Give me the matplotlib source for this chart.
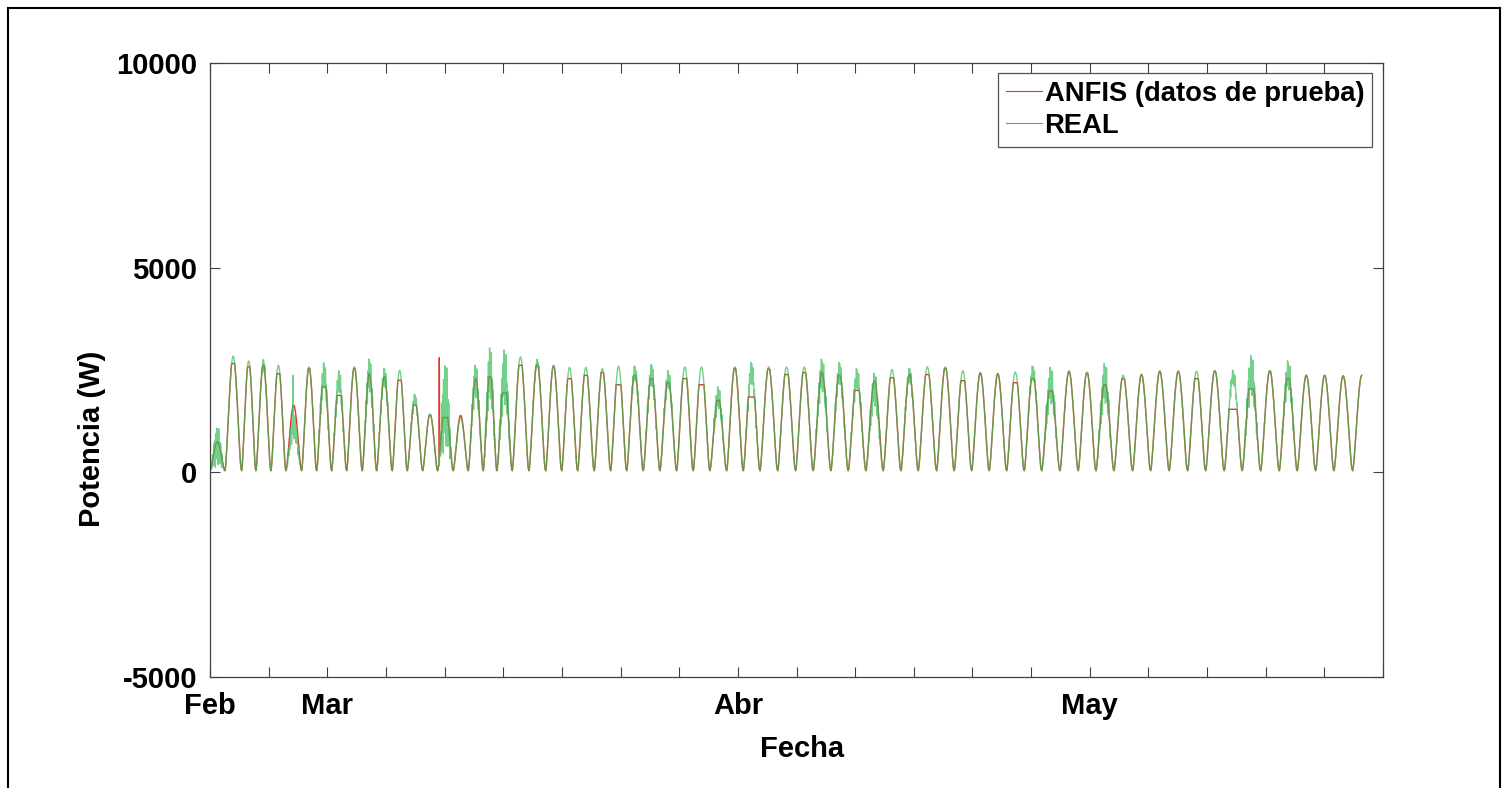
import numpy as np
import matplotlib
matplotlib.use("Agg")
import matplotlib.pyplot as plt
from matplotlib.patches import Rectangle

plt.rcParams["font.family"] = ["Liberation Sans", "DejaVu Sans"]

# inicio de cada ciclo diario, en unidades del eje x (una marca = 1)
inicio_dia = [0.000, 0.256, 0.540, 0.784, 1.040, 1.296, 1.563, 1.819, 2.075, 2.331,
              2.597, 2.842, 3.108, 3.364, 3.627, 3.882, 4.148, 4.404, 4.660, 4.893,
              5.154, 5.439, 5.724, 5.997, 6.269, 6.552, 6.832, 7.105, 7.388, 7.673,
              7.957, 8.240, 8.525, 8.810, 9.093, 9.378, 9.680, 9.986, 10.286, 10.588,
              10.883, 11.185, 11.480, 11.782, 12.077, 12.390, 12.690, 12.987, 13.287, 13.584,
              13.884, 14.181, 14.493, 14.805, 15.107, 15.414, 15.732, 16.039, 16.356, 16.670,
              16.977, 17.294, 17.601, 17.915, 18.232, 18.539, 18.852, 19.165, 19.483]
fin_datos = 19.64

# potencia maxima diaria (W), amplitud del ruido y tope de la salida ANFIS
pico_real = [600, 2800, 2680, 2600, 2575, 1100, 2535, 2350, 2200, 2535,
             2350, 2300, 2450, 1750, 1390, 1600, 1300, 2200, 2400, 2300,
             2780, 2650, 2575, 2520, 2520, 2495, 2550, 2400, 2350, 2250,
             2535, 2535, 1800, 2535, 2400, 2535, 2535, 2535, 2350, 2400,
             2250, 2000, 2470, 2350, 2535, 2535, 2440, 2390, 2370, 2410,
             2400, 2100, 2430, 2410, 2150, 2330, 2350, 2430, 2430, 2430,
             2450, 2300, 2350, 2450, 2350, 2330, 2330, 2315, 2330]
ruido_real = [500, 0, 0, 150, 0, 350, 0, 350, 300, 0,
              450, 250, 0, 150, 0, 1100, 0, 450, 700, 750,
              0, 100, 0, 0, 0, 0, 0, 200, 300, 250,
              0, 0, 300, 0, 300, 0, 0, 0, 450, 300,
              300, 450, 0, 200, 0, 0, 0, 0, 0, 0,
              200, 500, 0, 0, 550, 0, 0, 0, 0, 0,
              0, 200, 550, 0, 400, 0, 0, 0, 0]
tope_anfis = [700, 2620, 2540, 2575, 2370, 1600, 2500, 2050, 1840, 2500,
              2370, 2300, 2210, 1600, 1350, 1300, 1350, 2250, 2300, 1900,
              2575, 2580, 2550, 2250, 2330, 2400, 2100, 2330, 2250, 2150,
              2250, 2100, 1720, 2500, 1800, 2480, 2350, 2400, 2400, 2320,
              1960, 2200, 2270, 2350, 2350, 2500, 2200, 2390, 2370, 2150,
              2250, 1950, 2430, 2380, 2100, 2250, 2350, 2430, 2430, 2250,
              2430, 1500, 2000, 2430, 2250, 2330, 2330, 2315, 2330]

# forma normalizada del ciclo diario (48 muestras)
perfil = [0.00, 0.02, 0.05, 0.09, 0.14, 0.19, 0.25, 0.31, 0.37, 0.43, 0.49, 0.55,
          0.61, 0.67, 0.72, 0.77, 0.82, 0.86, 0.90, 0.93, 0.96, 0.98, 0.99, 1.00,
          1.00, 0.99, 0.98, 0.96, 0.93, 0.90, 0.86, 0.82, 0.77, 0.72, 0.67, 0.61,
          0.55, 0.49, 0.43, 0.37, 0.31, 0.25, 0.19, 0.14, 0.09, 0.05, 0.02, 0.01]
# patron de oscilacion de las mediciones ruidosas
oscil = [0.1, -0.6, 0.8, -0.3, 0.5, -0.9, 0.7, -0.2, 0.9, -0.7, 0.3, -0.5,
         1.0, -0.8, 0.4, -0.1, 0.6, -1.0, 0.8, -0.4, 0.2, -0.6, 0.9, -0.3,
         0.7, -0.9, 0.5, -0.7, 1.0, -0.2, 0.3, -0.8, 0.6, -0.5, 0.8, -0.1,
         0.4, -0.9, 0.7, -0.6, 0.2, -0.4, 0.5, -0.3, 0.3, -0.2, 0.1, 0.0]
base = 40

# picos aislados (x, W)
picos_real = [(1.415, 2370)]
picos_anfis = [(3.912, 2800)]

meses = ["Feb", "Mar", "Abr", "May"]
pos_meses = [0, 2, 9, 15]
yticks = [-5000, 0, 5000, 10000]

perf = np.array(perfil)
osc = np.array(oscil)
n = len(perf)
t_all, real_all, anfis_all = [], [], []
for k, s in enumerate(inicio_dia):
    e = inicio_dia[k + 1] if k + 1 < len(inicio_dia) else s + (s - inicio_dia[k - 1])
    t = s + (e - s) * np.arange(n) / n
    real = base + perf * pico_real[k] + ruido_real[k] * osc * perf
    anfis = np.minimum(base + perf * max(pico_real[k], tope_anfis[k]), base + tope_anfis[k])
    t_all.append(t)
    real_all.append(real)
    anfis_all.append(anfis)
t = np.concatenate(t_all)
real = np.concatenate(real_all)
anfis = np.concatenate(anfis_all)
keep = t <= fin_datos
t, real, anfis = t[keep], real[keep], anfis[keep]
for x, v in picos_real:
    real[np.argmin(np.abs(t - x))] = v
for x, v in picos_anfis:
    anfis[np.argmin(np.abs(t - x))] = v

W, H = 1509, 788
fig = plt.figure(figsize=(W / 100, H / 100), dpi=100)
ax = fig.add_axes([210 / W, 1 - 677 / H, 1173 / W, 614 / H])

ax.plot(t, anfis, color="#e2372c", lw=1.0, label="ANFIS (datos de prueba)")
ax.plot(t, real, color="#36bf5a", lw=1.0, alpha=0.7, label="REAL")

ax.set_xlim(0, 20)
ax.set_ylim(-5000, 10000)
ax.set_xticks(range(21))
xlabels = [""] * 21
for m, p in zip(meses, pos_meses):
    xlabels[p] = m
ax.set_xticklabels(xlabels, fontsize=21, fontweight="bold")
ax.set_yticks(yticks)
ax.set_yticklabels([str(v) for v in yticks], fontsize=21, fontweight="bold")
ax.tick_params(direction="in", length=7, width=0.8, color="#404040",
               top=True, right=True)
ax.tick_params(axis="x", pad=11)
ax.tick_params(axis="y", pad=9)
for sp in ax.spines.values():
    sp.set_color("#404040")
    sp.set_linewidth(0.9)

ax.set_xlabel("Fecha", fontsize=21, fontweight="bold", labelpad=10)
ax.xaxis.set_label_coords(0.505, -0.095)
ax.set_ylabel("Potencia (W)", fontsize=21, fontweight="bold")
ax.yaxis.set_label_coords(-0.089, 0.388)

leg = ax.legend(loc="upper right", bbox_to_anchor=(0.991, 0.984), borderaxespad=0,
                prop={"size": 19.7, "weight": "bold"}, handlelength=1.3,
                handletextpad=0.1, labelspacing=0.2, borderpad=0.3,
                fancybox=False, framealpha=1)
leg.get_frame().set_edgecolor("#505050")
leg.get_frame().set_linewidth(0.9)
for ln in leg.get_lines():
    ln.set_linewidth(0.8)
    ln.set_alpha(1)

fig.patches.append(Rectangle((8 / W, -0.01), 1492 / W, 1.01 - 8 / H,
                             transform=fig.transFigure, fill=False,
                             edgecolor="black", lw=1.5))

fig.savefig("out.png", dpi=100)
